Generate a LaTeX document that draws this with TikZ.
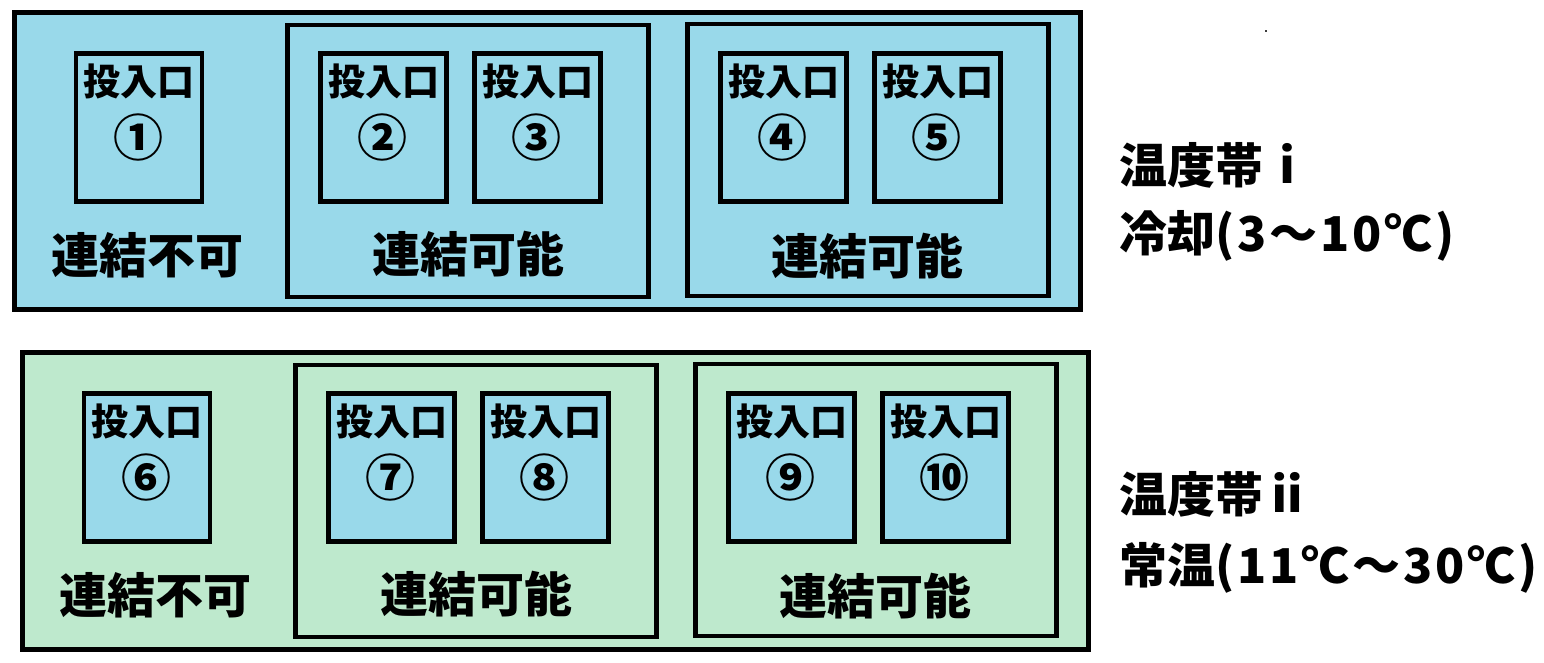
\documentclass[tikz,border=0pt]{standalone}
\usepackage{fontspec}
\setmainfont{Noto Sans CJK JP}
\definecolor{iceblue}{RGB}{153,217,234}
\definecolor{mintgreen}{RGB}{190,233,205}
\definecolor{speck}{RGB}{60,60,60}
\newcommand{\widerun}[1]{{\addfontfeature{LetterSpace=6}#1}}
\tikzset{
  lw/.style={line width=4.8pt},
  zonebox/.style={lw, draw=black, rectangle, inner sep=0pt, minimum width=1066pt, minimum height=297pt},
  groupbox/.style={lw, draw=black, rectangle, inner sep=0pt, minimum width=361pt, minimum height=272pt},
  slotbox/.style={lw, draw=black, fill=iceblue, rectangle, inner sep=0pt, minimum width=126pt, minimum height=148pt},
  slottitle/.style={inner sep=0pt, font=\bfseries\fontsize{37}{44}\selectfont},
  slotnum/.style={inner sep=0pt, font=\bfseries\fontsize{50}{60}\selectfont},
  grouplabel/.style={inner sep=0pt, font=\bfseries\fontsize{48}{58}\selectfont},
  sidelabel/.style={inner sep=0pt, anchor=west, font=\bfseries\fontsize{48}{58}\selectfont},
}
\begin{document}
\begin{tikzpicture}[x=1pt, y=-1pt]
\useasboundingbox (0,0) rectangle (1544,662);
\fill[white] (0,0) rectangle (1544,662);

% ---------- zone i ----------
\node[zonebox, fill=iceblue] (zoneA) at (547.5,161) {};
\node[groupbox] (gA2) at (468,161) {};
\node[groupbox] (gA3) at (868,160) {};
\foreach \nm/\xx/\num in {s1/139/①, s2/383.5/②, s3/537.5/③, s4/783.5/④, s5/937.5/⑤}{
  \node[slotbox] (\nm) at (\xx,127.5) {};
  \node[slottitle] (\nm t) at (\xx,81.5) {投入口};
  \node[slotnum] (\nm n) at (\xx-1,137) {\num};
}
\node[grouplabel] (lA1) at (147.5,255) {連結不可};
\node[grouplabel] (lA2) at (468,254) {連結可能};
\node[grouplabel] (lA3) at (867,256) {連結可能};

% ---------- zone ii ----------
\begin{scope}[shift={(8,340)}]
\node[zonebox, fill=mintgreen] (zoneB) at (547.5,161) {};
\node[groupbox] (gB2) at (468,161) {};
\node[groupbox] (gB3) at (868,160) {};
\foreach \nm/\xx/\num in {s6/139/⑥, s7/383.5/⑦, s8/537.5/⑧, s9/783.5/⑨, s10/937.5/⑩}{
  \node[slotbox] (\nm) at (\xx,127.5) {};
  \node[slottitle] (\nm t) at (\xx,81.5) {投入口};
  \node[slotnum] (\nm n) at (\xx-1,137) {\num};
}
\node[grouplabel] (lB1) at (147.5,255) {連結不可};
\node[grouplabel] (lB2) at (468,254) {連結可能};
\node[grouplabel] (lB3) at (867,256) {連結可能};
\end{scope}

% ---------- side labels ----------
\node[sidelabel] (zAt) at (1119,165) {温度帯ⅰ};
\node[sidelabel] (zAr) at (1119,236) {冷却\widerun{(3～10℃)}};
\node[sidelabel] (zBt) at (1119,494) {温度帯ⅱ};
\node[sidelabel] (zBr) at (1119,568) {常温\widerun{(11℃～30℃)}};

\fill[speck] (1264.5,29.5) rectangle (1266.5,31.5);
\end{tikzpicture}
\end{document}
